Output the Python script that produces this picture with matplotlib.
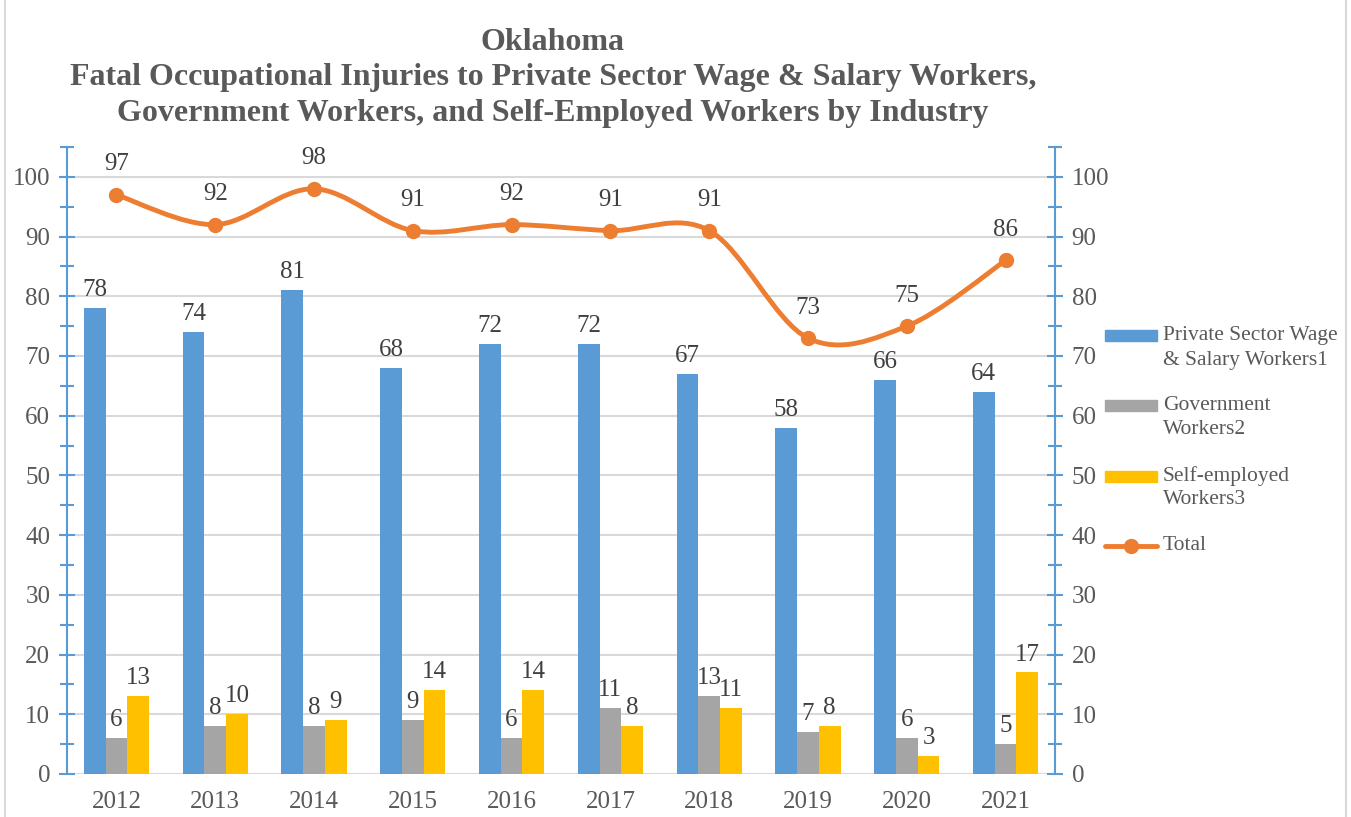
import numpy as np
import matplotlib.pyplot as plt
from matplotlib.path import Path
from matplotlib.patches import PathPatch, Rectangle
from matplotlib.lines import Line2D
from matplotlib.ticker import MultipleLocator

plt.rcParams['font.family'] = ['Liberation Serif', 'DejaVu Serif']

years = ['2012', '2013', '2014', '2015', '2016', '2017', '2018', '2019', '2020', '2021']
private = [78, 74, 81, 68, 72, 72, 67, 58, 66, 64]
government = [6, 8, 8, 9, 6, 11, 13, 7, 6, 5]
self_employed = [13, 10, 9, 14, 14, 8, 11, 8, 3, 17]
total = [97, 92, 98, 91, 92, 91, 91, 73, 75, 86]

series_names = ['Private Sector Wage\n& Salary Workers1', 'Government\nWorkers2',
                'Self-employed\nWorkers3', 'Total']

c_blue = '#5B9BD5'
c_gray = '#A5A5A5'
c_gold = '#FFC000'
c_orange = '#ED7D31'
c_text = '#595959'
c_lab = '#404040'

W, H = 1351, 817


def smooth_path(xs, ys):
    # bezier segments like Excel's smoothed line
    pts = np.column_stack([xs, ys]).astype(float)
    n = len(pts)
    verts = [pts[0]]
    codes = [Path.MOVETO]
    for i in range(n - 1):
        p0 = pts[i - 1] if i > 0 else pts[i]
        p1 = pts[i]
        p2 = pts[i + 1]
        p3 = pts[i + 2] if i + 2 < n else pts[i + 1]
        c1 = p1 + (p2 - p0) / 6
        c2 = p2 - (p3 - p1) / 6
        verts += [c1, c2, p2]
        codes += [Path.CURVE4] * 3
    return Path(verts, codes)


fig = plt.figure(figsize=(W / 100, H / 100), dpi=100)
ax = fig.add_axes([67 / W, 1 - 774 / H, (1055 - 67) / W, (774 - 147) / H])

x = np.arange(len(years))
w = 0.22
b1 = ax.bar(x - w, private, w, color=c_blue, zorder=2)
b2 = ax.bar(x, government, w, color=c_gray, zorder=2)
b3 = ax.bar(x + w, self_employed, w, color=c_gold, zorder=2)

for bars, vals in [(b1, private), (b2, government), (b3, self_employed)]:
    for r, v in zip(bars, vals):
        ax.annotate(str(v), (r.get_x() + r.get_width() / 2, v), xytext=(0, 5),
                    textcoords='offset points', ha='center', va='bottom',
                    fontsize=18, color=c_lab)

ax.add_patch(PathPatch(smooth_path(x, total), facecolor='none', edgecolor=c_orange,
                       lw=3.5, zorder=3, capstyle='round'))
ax.plot(x, total, 'o', color=c_orange, ms=10, zorder=4)
for xi, v in zip(x, total):
    ax.annotate(str(v), (xi, v), xytext=(0, 14), textcoords='offset points',
                ha='center', va='bottom', fontsize=18, color=c_lab)

ax.set_xlim(-0.5, len(years) - 0.5)
ax.set_ylim(0, 105)
ax.set_xticks(x)
ax.set_xticklabels(years)
ax.yaxis.set_major_locator(MultipleLocator(10))
ax.yaxis.set_minor_locator(MultipleLocator(5))
ax.set_yticks(np.arange(0, 101, 10))
ax.grid(axis='y', color='#D9D9D9', lw=1.5, zorder=0)
ax.set_axisbelow(True)

for s in ['top', 'right', 'bottom']:
    ax.spines[s].set_visible(False)
ax.spines['left'].set_color(c_blue)
ax.spines['left'].set_linewidth(1.5)
ax.tick_params(axis='x', length=0, labelsize=18, labelcolor=c_text, pad=12)
ax.tick_params(axis='y', which='both', direction='inout', color=c_blue, width=1.5,
               labelsize=18, labelcolor=c_text, pad=6)
ax.tick_params(axis='y', which='major', length=12)
ax.tick_params(axis='y', which='minor', length=10)

ax2 = ax.twinx()
ax2.set_ylim(0, 105)
ax2.yaxis.set_major_locator(MultipleLocator(10))
ax2.yaxis.set_minor_locator(MultipleLocator(5))
ax2.set_yticks(np.arange(0, 101, 10))
for s in ['top', 'left', 'bottom']:
    ax2.spines[s].set_visible(False)
ax2.spines['right'].set_color(c_blue)
ax2.spines['right'].set_linewidth(1.5)
ax2.tick_params(axis='y', which='both', direction='inout', color=c_blue, width=1.5,
                labelsize=18, labelcolor=c_text, pad=6)
ax2.tick_params(axis='y', which='major', length=12)
ax2.tick_params(axis='y', which='minor', length=10)

title_lines = ['Oklahoma',
               'Fatal Occupational Injuries to Private Sector Wage & Salary Workers,',
               'Government Workers, and Self-Employed Workers by Industry']
for k, line in enumerate(title_lines):
    fig.text(553 / W, 1 - (42 + 36 * k) / H, line, ha='center', va='center',
             fontsize=23, fontweight='bold', color=c_text)

# legend drawn by hand so the key sits next to the first text line, as in Excel
leg_y = [336, 406, 476, 546]
hx0, hx1, tx = 1105, 1157, 1163
for i, (name, y) in enumerate(zip(series_names, leg_y)):
    yf = 1 - y / H
    if i < 3:
        col = [c_blue, c_gray, c_gold][i]
        fig.add_artist(Rectangle((hx0 / W, yf - 5.5 / H), (hx1 - hx0) / W, 11 / H,
                                 transform=fig.transFigure, color=col))
    else:
        fig.add_artist(Line2D([hx0 / W, hx1 / W], [yf, yf], transform=fig.transFigure,
                              color=c_orange, lw=3.5, solid_capstyle='round'))
        fig.add_artist(Line2D([(hx0 + hx1) / 2 / W], [yf], transform=fig.transFigure,
                              color=c_orange, marker='o', ms=10))
    for k, part in enumerate(name.split('\n')):
        fig.text(tx / W, 1 - (y + 24 * k) / H, part, ha='left', va='center',
                 fontsize=15.5, color=c_text)

fig.patches.append(Rectangle((0.004, -0.05), 0.992, 1.2, transform=fig.transFigure,
                             fill=False, edgecolor='#D9D9D9', lw=1.5))

fig.savefig('out.png', dpi=100)
